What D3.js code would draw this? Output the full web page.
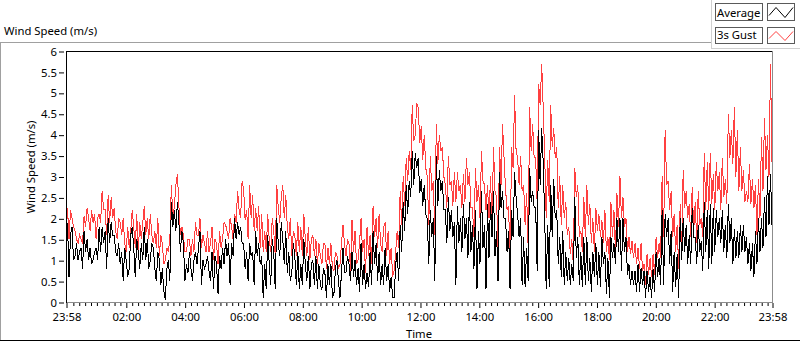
<!DOCTYPE html>
<html>
<head>
<meta charset="utf-8">
<script src="https://cdn.jsdelivr.net/npm/d3@7"></script>
<style>
  body { margin: 0; background: #fff; }
  svg { display: block; font-family: "Noto Sans", "Open Sans", sans-serif; }
</style>
</head>
<body>
<div id="chart"></div>
<script>
// series, evenly spaced from 23:58 to 23:58 next day
const gustValues = [
  1.6,2.25,1.5,2.2,2.0,1.8,1.7,1.5,1.4,1.6,1.5,1.4,2.05,1.8,2.25,2.0,1.7,2.2,1.9,2.1,1.5,2.0,2.1,1.9,2.65,2.2,2.2,1.6,2.55,1.9,2.5,2.0,2.25,1.7,1.5,2.0,1.9,1.6,2.0,1.4,1.2,1.8,1.3,1.7,2.2,1.8,1.3,2.1,1.2,1.9,1.5,1.9,2.3,1.6,2.0,1.5,2.1,1.6,1.4,1.7,1.3,2.0,1.1,1.6,1.4,0.9,1.0,1.3,1.2,1.5,2.8,2.0,2.3,2.8,3.05,2.3,1.6,1.8,1.6,1.2,1.2,1.5,1.5,1.1,1.5,1.2,1.9,1.6,1.6,2.0,1.3,1.6,1.4,1.2,
  1.7,1.2,1.4,1.8,1.0,1.5,1.4,0.9,1.7,1.3,1.5,1.9,1.85,1.7,1.5,2.0,1.8,1.5,2.1,1.9,2.65,2.2,2.0,2.9,2.7,1.95,2.2,1.5,2.8,2.0,2.55,1.7,2.25,1.7,2.3,1.3,2.1,1.2,1.7,1.2,2.1,1.5,1.2,2.0,1.7,1.1,2.8,2.25,1.9,2.5,2.8,2.0,2.55,1.8,1.5,2.0,1.1,1.7,1.6,1.1,1.9,1.2,1.8,1.1,2.1,1.5,1.1,1.8,1.0,1.5,1.6,1.1,1.5,0.9,1.4,1.1,0.9,1.4,1.4,0.8,1.3,0.9,1.4,0.8,0.75,1.2,1.1,0.8,0.9,1.4,1.85,1.4,1.1,1.5,
  1.4,0.75,1.95,1.2,1.7,0.9,1.0,1.4,2.0,1.2,1.5,0.7,1.8,1.1,1.6,0.9,2.3,1.55,2.0,1.3,2.1,1.4,1.2,1.8,1.9,1.1,1.7,0.9,1.3,0.6,0.75,1.2,1.7,1.3,2.65,1.85,3.0,2.3,3.45,2.9,3.6,3.15,4.7,3.85,4.0,4.75,4.65,3.8,4.2,3.4,4.0,3.2,3.0,1.85,3.5,2.65,2.9,1.6,4.25,3.3,4.0,3.6,3.7,3.0,2.8,2.25,3.5,2.8,2.9,2.3,3.1,2.4,3.1,2.65,2.8,2.25,3.05,2.4,3.45,2.8,3.1,2.25,2.25,1.55,3.2,2.4,2.8,2.0,3.6,2.9,2.8,2.2,2.8,2.0,
  3.0,1.85,3.7,2.65,2.5,1.2,3.7,2.8,4.25,3.45,2.7,2.2,2.3,1.0,3.7,3.2,4.95,3.6,3.45,2.8,3.5,2.65,2.8,1.85,2.6,1.3,4.65,3.6,4.25,3.45,3.45,2.35,5.2,4.7,5.7,4.65,3.5,2.0,3.4,2.4,4.7,3.7,4.15,3.45,3.7,2.25,3.0,1.85,2.8,2.0,2.4,1.6,1.8,1.15,1.5,0.9,3.2,2.5,2.8,1.55,1.7,1.2,2.5,1.55,2.8,1.85,2.35,1.4,2.0,1.2,2.25,1.7,2.1,1.55,1.95,1.4,2.2,1.2,1.55,1.0,2.4,1.55,2.2,1.2,2.6,1.8,3.0,2.0,2.5,1.8,2.0,1.2,1.55,1.15,
  1.45,1.05,1.4,0.9,1.3,0.8,1.4,0.75,0.9,0.4,1.15,0.65,1.05,0.6,1.15,0.65,1.55,1.05,1.4,1.05,3.0,1.55,4.1,2.8,2.9,2.2,2.65,1.55,2.1,1.2,1.85,0.8,2.35,1.2,3.15,2.25,2.65,2.0,2.35,1.55,2.75,1.7,2.4,1.4,2.65,1.85,2.0,1.55,3.55,2.2,3.35,2.2,3.55,2.35,3.05,2.2,3.35,2.65,3.1,2.2,3.45,2.5,2.95,2.35,4.5,3.45,4.1,3.3,4.65,3.0,4.1,2.65,3.7,2.65,3.15,2.4,2.65,2.4,3.3,2.35,2.95,2.25,2.8,1.6,2.95,2.0,3.95,2.65,4.4,3.15,4.0,3.0,5.7,3.35
];

const avgValues = [
  0.8,1.9,0.6,1.6,1.8,1.0,1.1,1.4,1.0,1.2,1.3,0.8,1.7,1.2,1.5,1.0,1.3,0.9,1.0,1.2,1.3,1.0,1.8,1.2,1.8,1.4,1.7,0.8,2.0,1.4,1.9,1.6,1.6,1.2,1.1,1.4,0.9,1.2,0.5,1.3,1.0,0.6,0.8,1.6,1.8,1.3,0.6,1.5,1.2,0.8,1.4,1.0,1.8,1.0,1.5,0.8,1.0,1.4,1.3,0.8,0.5,1.2,1.0,0.4,0.8,0.25,0.05,0.8,1.0,0.5,2.4,1.8,2.2,1.7,2.4,1.9,1.2,1.7,1.4,0.5,0.9,0.7,1.2,0.8,0.5,1.0,1.2,0.9,1.3,1.7,0.4,1.0,0.8,0.9,
  1.1,0.75,0.5,1.2,0.3,1.1,0.9,0.2,1.1,0.8,1.3,0.9,1.5,1.1,1.4,0.4,1.4,1.1,2.0,1.5,1.9,1.6,1.8,1.4,1.4,0.8,1.2,0.5,1.4,1.1,1.2,0.4,1.7,1.1,1.4,0.9,1.1,0.1,0.9,0.3,1.6,0.9,0.4,1.5,1.2,0.3,2.0,1.4,1.1,1.9,1.5,0.9,1.7,0.7,1.2,0.5,0.7,1.4,1.1,0.4,1.2,0.3,0.9,0.4,1.5,0.9,0.5,1.1,0.3,0.9,1.0,0.4,1.1,0.3,0.9,0.4,0.3,0.8,0.7,0.1,0.9,0.4,0.9,0.1,0.2,0.8,1.0,0.5,0.1,0.7,1.3,0.7,0.7,1.1,
  0.9,0.5,1.2,0.6,1.0,0.4,0.8,0.25,1.4,0.4,0.9,0.3,0.7,0.35,1.2,0.4,1.7,0.9,1.4,0.5,1.2,0.4,0.9,0.4,1.3,0.5,0.9,0.25,0.6,0.1,0.1,0.9,1.2,0.5,1.85,1.2,2.4,1.7,2.8,2.1,2.9,2.5,3.6,2.8,3.55,3.2,3.45,2.6,2.95,2.3,2.8,2.1,2.0,0.9,2.2,1.55,2.0,0.5,3.5,2.3,3.15,2.65,2.9,2.2,2.2,1.4,2.5,1.7,2.2,1.55,1.9,0.4,2.3,1.4,2.0,1.2,2.35,1.5,2.0,1.05,2.4,1.2,1.85,0.8,2.2,0.3,1.7,0.9,2.65,1.3,1.85,0.3,2.35,1.05,
  2.4,1.55,2.65,1.1,1.7,0.5,3.1,2.25,2.65,2.0,2.0,1.2,1.7,0.3,2.2,1.55,3.1,2.5,2.1,1.55,2.0,0.4,1.55,0.35,1.3,0.5,3.2,2.4,2.65,2.25,2.25,0.75,4.1,2.8,4.15,3.35,2.0,0.3,1.85,0.35,2.8,1.55,2.95,2.0,2.2,0.9,1.55,0.6,1.7,0.4,1.2,0.5,1.05,0.4,0.9,0.5,2.5,1.05,1.55,0.4,1.2,0.35,1.55,0.4,1.55,0.5,1.05,0.25,1.2,0.6,1.4,0.4,1.2,0.35,1.55,0.9,1.2,0.2,1.05,0.1,1.55,1.05,1.4,0.9,2.0,1.2,2.0,0.75,2.0,1.2,1.55,0.65,0.9,0.4,
  0.75,0.4,0.75,0.25,0.9,0.25,0.8,0.4,0.75,0.1,0.75,0.25,0.6,0.1,0.8,0.25,1.2,0.6,1.05,0.4,2.2,0.4,2.1,1.55,2.0,0.9,1.7,0.25,1.2,0.35,1.15,0.1,2.0,1.0,2.0,1.2,1.85,0.9,1.6,0.9,2.25,1.55,1.55,0.9,1.85,1.2,1.45,0.75,2.4,1.2,2.2,0.8,2.35,0.9,2.25,1.2,2.2,1.55,2.0,1.4,2.2,1.2,1.85,1.05,2.35,1.4,2.0,0.9,1.75,1.05,1.7,1.05,1.85,1.2,1.85,1.2,1.55,0.9,1.4,0.75,1.4,0.6,1.7,0.9,2.0,1.2,2.0,1.3,2.5,1.55,3.0,1.85,3.05,1.85
];

const yTicks = [0, 0.5, 1, 1.5, 2, 2.5, 3, 3.5, 4, 4.5, 5, 5.5, 6];
const xTickHours = [2, 4, 6, 8, 10, 12, 14, 16, 18, 20, 22];
const seriesNames = ["Average", "3s Gust"];
const seriesColors = ["#000000", "#ff4040"];

let width = 800, height = 342;
let margin = { top: 51, bottom: 40, left: 66, right: 28 };

// time range of the record
const startTime = new Date(2020, 0, 1, 23, 58);
const endTime = new Date(2020, 0, 2, 23, 58);
const stepMs = (endTime - startTime) / (avgValues.length - 1);

const data = avgValues.map((v, i) => ({
  t: new Date(startTime.getTime() + i * stepMs),
  avg: v,
  gust: gustValues[i]
}));

let svg = d3.select('#chart')
  .append('svg')
  .attr('width', width)
  .attr('height', height)
  .style('background', 'white');

let xScale = d3.scaleTime()
  .domain([startTime, endTime])
  .range([margin.left, width - margin.right]);

let yScale = d3.scaleLinear()
  .domain([0, 6])
  .range([height - margin.bottom, margin.top]);

// outer frame
svg.append('line').attr('x1', 0).attr('x2', 711).attr('y1', 42.5).attr('y2', 42.5)
  .attr('stroke', '#a0a0a0');
svg.append('line').attr('x1', 0.5).attr('x2', 0.5).attr('y1', 42).attr('y2', 341)
  .attr('stroke', '#a0a0a0');
svg.append('line').attr('x1', 0).attr('x2', 800).attr('y1', 340.5).attr('y2', 340.5)
  .attr('stroke', '#000');

// title
svg.append('text')
  .attr('x', 4)
  .attr('y', 35)
  .style('font-size', '11.3px')
  .attr('fill', '#000')
  .text('Wind Speed (m/s)');

// legend panel
svg.append('line').attr('x1', 711.5).attr('x2', 711.5).attr('y1', 0).attr('y2', 49)
  .attr('stroke', '#d0d0d0');
svg.append('line').attr('x1', 711).attr('x2', 800).attr('y1', 48.5).attr('y2', 48.5)
  .attr('stroke', '#d0d0d0');

const legendRows = [{ y: 3.5, h: 17, base: 16.5 }, { y: 27.5, h: 16, base: 39 }];
seriesNames.forEach((name, i) => {
  const row = legendRows[i];
  svg.append('rect')
    .attr('x', 715.5).attr('y', row.y)
    .attr('width', 47).attr('height', row.h)
    .attr('fill', 'white').attr('stroke', '#5a5a5a');
  svg.append('text')
    .attr('x', 717).attr('y', row.base)
    .style('font-size', '11.3px')
    .text(name);
  svg.append('rect')
    .attr('x', 767.5).attr('y', row.y)
    .attr('width', 27).attr('height', row.h)
    .attr('fill', 'white').attr('stroke', '#5a5a5a');
  const top = row.y + 4, bot = row.y + row.h - 3;
  svg.append('path')
    .attr('d', d3.line()([[769, bot - 2], [776, top], [785, bot], [793, top]]))
    .attr('fill', 'none')
    .attr('stroke', seriesColors[i]);
});

// plot frame
svg.append('line').attr('x1', margin.left).attr('x2', width - margin.right + 0.5)
  .attr('y1', margin.top + 0.5).attr('y2', margin.top + 0.5).attr('stroke', '#000');
svg.append('line').attr('x1', width - margin.right + 0.5).attr('x2', width - margin.right + 0.5)
  .attr('y1', margin.top).attr('y2', height - margin.bottom + 1).attr('stroke', '#8c8c8c');
svg.append('line').attr('x1', margin.left).attr('x2', width - margin.right + 1)
  .attr('y1', height - margin.bottom + 0.5).attr('y2', height - margin.bottom + 0.5)
  .attr('stroke', '#8c8c8c');
svg.append('line').attr('x1', margin.left + 0.5).attr('x2', margin.left + 0.5)
  .attr('y1', margin.top).attr('y2', height - margin.bottom + 1).attr('stroke', '#000');

// clip for the data
svg.append('clipPath').attr('id', 'plotClip')
  .append('rect')
  .attr('x', margin.left + 1).attr('y', margin.top + 1)
  .attr('width', width - margin.right - margin.left - 1)
  .attr('height', height - margin.bottom - margin.top - 1);

const plot = svg.append('g').attr('clip-path', 'url(#plotClip)');

let gustLine = d3.line()
  .x(d => xScale(d.t))
  .y(d => yScale(d.gust));

let avgLine = d3.line()
  .x(d => xScale(d.t))
  .y(d => yScale(d.avg));

// aliased strokes, like the original plot
plot.append('path')
  .datum(data)
  .attr('d', gustLine)
  .attr('fill', 'none')
  .attr('stroke', seriesColors[1])
  .attr('stroke-width', 1)
  .attr('shape-rendering', 'crispEdges');

plot.append('path')
  .datum(data)
  .attr('d', avgLine)
  .attr('fill', 'none')
  .attr('stroke', seriesColors[0])
  .attr('stroke-width', 1)
  .attr('shape-rendering', 'crispEdges');

// y axis
let yAxis = svg.append('g')
  .attr('transform', `translate(${margin.left - 2},0.5)`)
  .call(d3.axisLeft(yScale).tickValues(yTicks).tickSize(5).tickPadding(2)
    .tickFormat(d3.format('~g')));
yAxis.select('.domain').remove();
yAxis.selectAll('line').attr('stroke', '#000');
yAxis.selectAll('text').style('font-size', '11.3px').attr('fill', '#000')
  .style('font-family', '"Noto Sans", sans-serif');

svg.append('text')
  .attr('transform', `translate(35,167) rotate(-90)`)
  .attr('text-anchor', 'middle')
  .style('font-size', '11.3px')
  .text('Wind Speed (m/s)');

// x axis: major ticks, then minor ticks every 12 minutes
const majorTimes = [startTime]
  .concat(xTickHours.map(h => new Date(2020, 0, 2, h, 0)))
  .concat([endTime]);
const minorTimes = d3.timeMinute.every(12).range(startTime, endTime)
  .filter(t => t.getMinutes() !== 0 || t.getHours() % 2 !== 0);

let xMinor = svg.append('g')
  .attr('transform', `translate(0.5,${height - margin.bottom + 1})`)
  .call(d3.axisBottom(xScale).tickValues(minorTimes).tickSize(3).tickFormat(''));
xMinor.select('.domain').remove();
xMinor.selectAll('line').attr('stroke', '#000');

let xAxis = svg.append('g')
  .attr('transform', `translate(0.5,${height - margin.bottom + 1})`)
  .call(d3.axisBottom(xScale).tickValues(majorTimes).tickSize(5).tickPadding(5)
    .tickFormat(d3.timeFormat('%H:%M')));
xAxis.select('.domain').remove();
xAxis.selectAll('line').attr('stroke', '#000');
xAxis.selectAll('text').style('font-size', '11.3px').attr('fill', '#000')
  .style('font-family', '"Noto Sans", sans-serif');

svg.append('text')
  .attr('x', (margin.left + width - margin.right) / 2)
  .attr('y', 338)
  .attr('text-anchor', 'middle')
  .style('font-size', '11.3px')
  .text('Time');
</script>
</body>
</html>
